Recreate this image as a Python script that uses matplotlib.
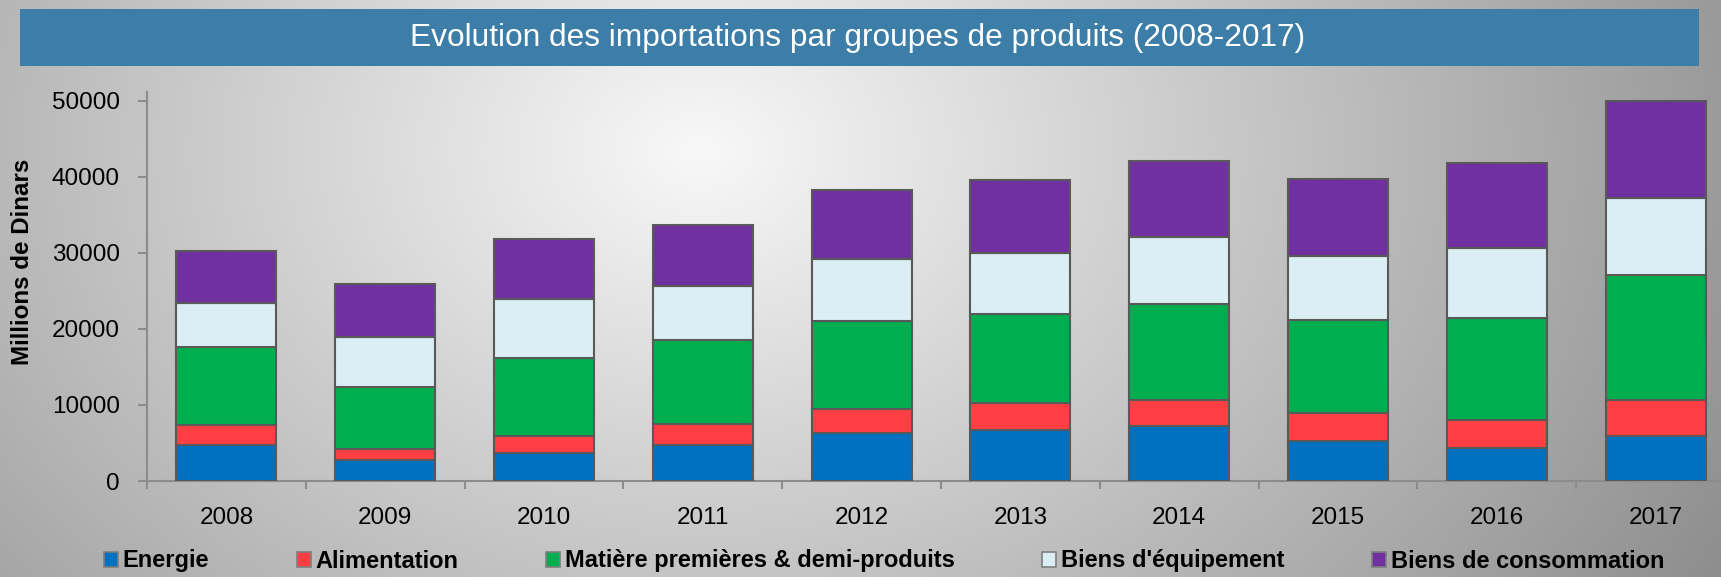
import numpy as np
import matplotlib
matplotlib.use("Agg")
import matplotlib.pyplot as plt
from matplotlib.patches import Rectangle, Patch

years = ["2008", "2009", "2010", "2011", "2012", "2013", "2014", "2015", "2016", "2017"]
energie = [4770, 2720, 3720, 4770, 6350, 6710, 7270, 5300, 4300, 5960]
alimentation = [2630, 1530, 2160, 2720, 3160, 3510, 3420, 3680, 3720, 4700]
matieres = [10260, 8150, 10260, 11050, 11490, 11780, 12620, 12150, 13370, 16480]
equipement = [5790, 6580, 7800, 7140, 8230, 7980, 8770, 8420, 9250, 10130]
consommation = [6800, 6930, 7890, 8020, 8990, 9600, 9990, 10130, 11140, 12760]
series_names = ["Energie", "Alimentation", "Matière premières & demi-produits",
                "Biens d'équipement", "Biens de consommation"]
colors = ["#0070C0", "#FF3F43", "#00AE4F", "#DAEEF3", "#7030A0"]
yticks = [0, 10000, 20000, 30000, 40000, 50000]
title = "Evolution des importations par groupes de produits (2008-2017)"
ylabel = "Millions de Dinars"

fam = ["Liberation Sans", "DejaVu Sans"]

W, H = 1721, 577
fig = plt.figure(figsize=(W / 100, H / 100), dpi=100)

# background gradient
bg = fig.add_axes([0, 0, 1, 1], zorder=-10)
xx, yy = np.meshgrid(np.linspace(0, 1, W), np.linspace(0, 1, H))
dx = (xx - 700 / W) * 157
dy = (yy - 150 / H) * 70
v = 248 - np.sqrt(dx ** 2 + dy ** 2)
v = np.clip(v, 0, 255) / 255
bg.imshow(np.dstack([v, v, v]), aspect="auto", extent=[0, 1, 0, 1], origin="upper")
bg.set_axis_off()

# title band
fig.patches.append(Rectangle((20 / W, 1 - 66 / H), 1679 / W, 57 / H,
                             transform=fig.transFigure, facecolor="#3D7EA8",
                             edgecolor="none", zorder=1))
fig.text(858 / W, 1 - 38 / H, title, ha="center", va="center", color="white",
         fontsize=22.8, family=fam, zorder=2)

ax = fig.add_axes([147 / W, (H - 481) / H, 1588 / W, 389 / H])
ax.patch.set_alpha(0)
x = np.arange(len(years))
data = [energie, alimentation, matieres, equipement, consommation]
bottom = np.zeros(len(years))
for vals, c, n in zip(data, colors, series_names):
    ax.bar(x, vals, width=0.63, bottom=bottom, color=c, edgecolor="#595959",
           linewidth=1.5, label=n, zorder=3)
    bottom += np.array(vals)

ax.set_xlim(-0.5, 9.5)
ax.set_ylim(0, 51150)
for s in ["top", "right"]:
    ax.spines[s].set_visible(False)
for s in ["left", "bottom"]:
    ax.spines[s].set_color("#8c8c8c")
    ax.spines[s].set_linewidth(1.5)
ax.set_yticks(yticks)
ax.set_yticklabels([str(t) for t in yticks])
ax.tick_params(axis="y", direction="out", length=6.5, width=1.5, color="#8c8c8c",
               pad=13, labelsize=17.5, labelcolor="black")
ax.set_xticks(np.arange(-0.5, 10, 1))
ax.set_xticklabels([])
ax.tick_params(axis="x", which="major", direction="out", length=6, width=1.5, color="#8c8c8c")
ax.set_xticks(x, minor=True)
ax.set_xticklabels(years, minor=True)
ax.tick_params(axis="x", which="minor", length=0, pad=19, labelsize=17.5)
for lab in ax.get_xticklabels(minor=True) + ax.get_yticklabels():
    lab.set_family(fam)

fig.text(23 / W, 1 - 261.5 / H, ylabel, rotation=90, ha="center", va="center",
         fontsize=17.4, fontweight="bold", family=fam)

handles = [Patch(facecolor=c, edgecolor="#7f7f7f", linewidth=1.2) for c in colors]
leg = fig.legend(handles, series_names, loc="center", ncol=5,
                 bbox_to_anchor=(884 / W, 1 - 561 / H), frameon=False,
                 handlelength=0.6, handleheight=0.6, handletextpad=0.2,
                 columnspacing=3.7, borderpad=0,
                 prop={"family": fam, "weight": "bold", "size": 17})

fig.savefig("out.png", dpi=100)
